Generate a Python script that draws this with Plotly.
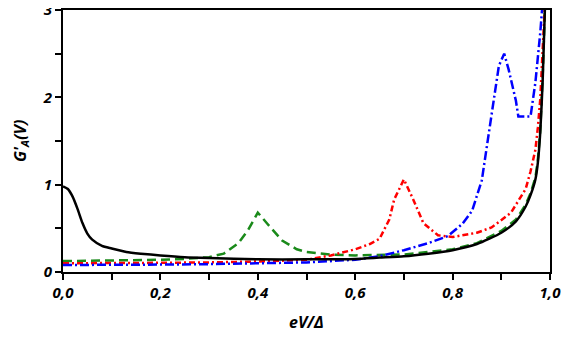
import plotly.graph_objects as go

# Black solid
x_black = [0, 0.01, 0.02, 0.03, 0.04, 0.05, 0.06, 0.08, 0.1, 0.13, 0.16, 0.2, 0.25, 0.3, 0.4, 0.5, 0.6,
           0.65, 0.7, 0.75, 0.8, 0.85, 0.9, 0.93, 0.95, 0.96, 0.97, 0.975, 0.98, 0.985, 0.99]
y_black = [0.98, 0.95, 0.86, 0.72, 0.56, 0.44, 0.37, 0.3, 0.27, 0.23, 0.21, 0.19, 0.17, 0.16, 0.145, 0.145, 0.15,
           0.165, 0.18, 0.21, 0.25, 0.32, 0.45, 0.58, 0.75, 0.88, 1.06, 1.25, 1.6, 2.2, 3.1]

# Green dashed
x_green = [0, 0.1, 0.2, 0.25, 0.3, 0.33, 0.36, 0.38, 0.4, 0.42, 0.45, 0.48, 0.5, 0.55, 0.6, 0.7, 0.8,
           0.85, 0.9, 0.93, 0.95, 0.96, 0.97, 0.975, 0.98, 0.985, 0.99]
y_green = [0.125, 0.13, 0.14, 0.15, 0.17, 0.21, 0.33, 0.48, 0.68, 0.55, 0.36, 0.26, 0.23, 0.2, 0.19, 0.2, 0.26,
           0.33, 0.47, 0.6, 0.77, 0.9, 1.08, 1.28, 1.62, 2.25, 3.1]

# Red dash-dot
x_red = [0, 0.1, 0.2, 0.3, 0.4, 0.5, 0.55, 0.6, 0.63, 0.65, 0.67, 0.68, 0.7, 0.72, 0.74, 0.77, 0.8,
         0.85, 0.88, 0.92, 0.95, 0.96, 0.97, 0.975, 0.98, 0.985, 0.99]
y_red = [0.1, 0.1, 0.105, 0.11, 0.12, 0.14, 0.19, 0.26, 0.32, 0.38, 0.6, 0.83, 1.06, 0.82, 0.56, 0.42, 0.4,
         0.45, 0.51, 0.68, 0.95, 1.15, 1.4, 1.65, 1.98, 2.55, 3.1]

# Blue dash-dot
x_blue = [0, 0.1, 0.2, 0.3, 0.4, 0.5, 0.6, 0.65, 0.7, 0.75, 0.79, 0.82, 0.84, 0.86, 0.88, 0.895, 0.906,
          0.915, 0.93, 0.935, 0.96, 0.97, 0.98, 0.985]
y_blue = [0.08, 0.08, 0.085, 0.09, 0.1, 0.11, 0.14, 0.18, 0.25, 0.33, 0.41, 0.55, 0.7, 1.05, 1.8, 2.36, 2.5,
          2.32, 1.96, 1.78, 1.78, 2.17, 2.74, 3.1]

# tick positions (every 0.1 / 0.5) and their labels (blank for unlabelled ticks)
x_tickvals = [0.0, 0.1, 0.2, 0.3, 0.4, 0.5, 0.6, 0.7, 0.8, 0.9, 1.0]
x_ticktext = ["0,0", "", "0,2", "", "0,4", "", "0,6", "", "0,8", "", "1,0"]
y_tickvals = [0, 0.5, 1, 1.5, 2, 2.5, 3]
y_ticktext = ["0", "", "1", "", "2", "", "3"]
x_title = "eV/Δ"
y_title = "G'<sub>A</sub>(V)"


def bi(s):
    return "<b><i>" + s + "</i></b>" if s else ""


fig = go.Figure()
fig.add_trace(go.Scatter(x=x_green, y=y_green, mode="lines",
                         line=dict(color="#1a8a1a", width=2.5, dash="9px,5px")))
fig.add_trace(go.Scatter(x=x_red, y=y_red, mode="lines",
                         line=dict(color="#ff0000", width=2.5, dash="6px,3px,2px,3px")))
fig.add_trace(go.Scatter(x=x_blue, y=y_blue, mode="lines",
                         line=dict(color="#0000ff", width=2.5, dash="9px,3px,2px,3px")))
fig.add_trace(go.Scatter(x=x_black, y=y_black, mode="lines",
                         line=dict(color="#000000", width=2.5, shape="spline", smoothing=0.6)))

# page body has an 8px margin, so the figure is sized/offset to compensate
fig.update_layout(
    width=567, height=331,
    margin=dict(l=55, r=25, t=2, b=67),
    plot_bgcolor="white", paper_bgcolor="white",
    showlegend=False,
    xaxis=dict(range=[0, 1], tickmode="array", tickvals=x_tickvals, ticktext=[bi(t) for t in x_ticktext],
               showline=True, linewidth=2, linecolor="black", mirror=True,
               ticks="outside", ticklen=6, tickwidth=2, tickcolor="black",
               tickfont=dict(size=15, color="black"),
               showgrid=False, zeroline=False, automargin=False, ticklabeloverflow="allow"),
    yaxis=dict(range=[0, 3], tickmode="array", tickvals=y_tickvals, ticktext=[bi(t) for t in y_ticktext],
               showline=True, linewidth=2, linecolor="black", mirror=True,
               ticks="outside", ticklen=6, tickwidth=2, tickcolor="black",
               tickfont=dict(size=15, color="black"),
               showgrid=False, zeroline=False, automargin=False, ticklabeloverflow="allow"),
    annotations=[
        dict(text=bi(x_title), xref="paper", yref="paper", x=0.5, y=0, xanchor="center", yanchor="middle",
             yshift=-50, showarrow=False, font=dict(size=16, color="black")),
        dict(text=bi(y_title), xref="paper", yref="paper", x=0, y=0.5, xanchor="center", yanchor="middle",
             xshift=-43, textangle=-90, showarrow=False, font=dict(size=16, color="black")),
    ],
)

fig.write_html("out.html")
